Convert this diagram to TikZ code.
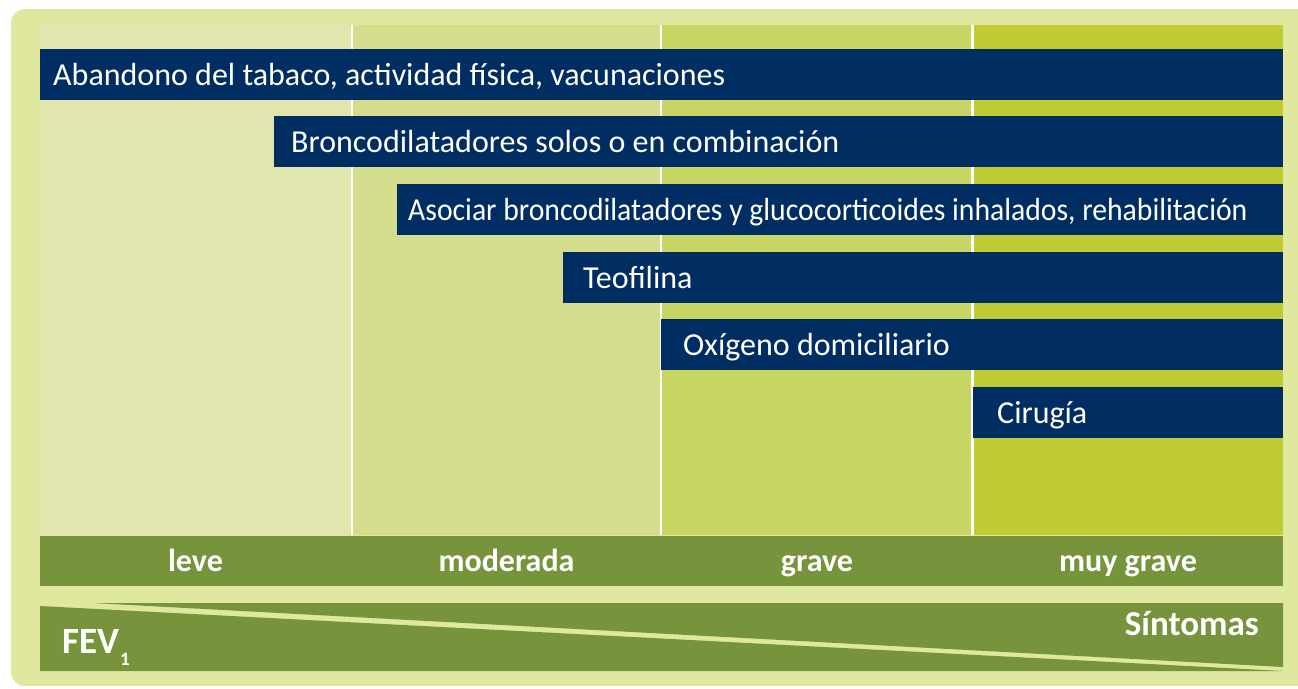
\documentclass[tikz,border=0pt]{standalone}
\usepackage{fontspec}
\setmainfont{Carlito}
\usetikzlibrary{positioning}

\definecolor{framegreen}{RGB}{223,232,158}
\definecolor{colA}{RGB}{225,229,174}
\definecolor{colB}{RGB}{212,221,139}
\definecolor{colC}{RGB}{199,213,98}
\definecolor{colD}{RGB}{191,204,51}
\definecolor{barblue}{RGB}{0,45,98}
\definecolor{bandgreen}{RGB}{119,147,60}

\tikzset{
  bar/.style={fill=barblue, draw=none, inner sep=0pt, minimum height=51pt, anchor=north west},
  bartext/.style={text=white, inner sep=0pt, text height=27pt, text depth=6pt, font=\fontsize{32}{36}\selectfont},
  level/.style={text=white, inner sep=0pt, anchor=base, font=\bfseries\fontsize{32}{36}\selectfont},
  axis/.style={text=white, inner sep=0pt, font=\bfseries\fontsize{35}{40}\selectfont}
}

\begin{document}
\begin{tikzpicture}[x=1pt,y=-1pt]
\useasboundingbox (0,0) rectangle (1298,688);
\clip (0,0) rectangle (1298,688);
% frame and columns
\fill[framegreen, rounded corners=14pt] (11,9) rectangle (1330,686);
\fill[white] (40,25) rectangle (1283,535);
\fill[colA] (40,25) rectangle (351,535);
\fill[colB] (353,25) rectangle (660,535);
\fill[colC] (662,25) rectangle (971,535);
\fill[colD] (974,25) rectangle (1283,535);
% treatment bars
\foreach \n/\x/\y/\dx/\txt [evaluate=\x as \w using 1283-\x] in {
    1/40/49/13/{Abandono del tabaco, actividad física, vacunaciones},
    2/274/116/17/{Broncodilatadores solos o en combinación},
    3/397/184/11/{\scalebox{0.928}[1]{Asociar broncodilatadores y glucocorticoides inhalados, rehabilitación}},
    4/563/252/20/{Teofilina},
    5/661/319/22/{Oxígeno domiciliario},
    6/973/387/24/{Cirugía}}
{
  \node[bar, minimum width=\w pt] (b\n) at (\x,\y) {};
  \node[bartext, right=\dx pt of b\n.west] (t\n) {\txt};
}
% severity band
\fill[bandgreen] (40,536) rectangle (1283,586);
\foreach \name/\cx/\txt in {leve/195.5/leve, moderada/506.5/moderada, grave/817/grave, muygrave/1128/muy grave}
  \node[level] (\name) at (\cx,571) {\txt};
% FEV1 / symptoms
\fill[bandgreen] (93,603) -- (1283,603) -- (1283,667) -- cycle;
\fill[bandgreen] (40,606) -- (1283,671) -- (40,671) -- cycle;
\node[axis, anchor=base west, font=\bfseries\fontsize{37}{40}\selectfont] (fev) at (62,653) {FEV\kern1pt\raisebox{-12pt}{\fontsize{19}{20}\selectfont 1}};
\node[axis, anchor=base east] (sintomas) at (1259,635) {Síntomas};
\end{tikzpicture}
\end{document}
